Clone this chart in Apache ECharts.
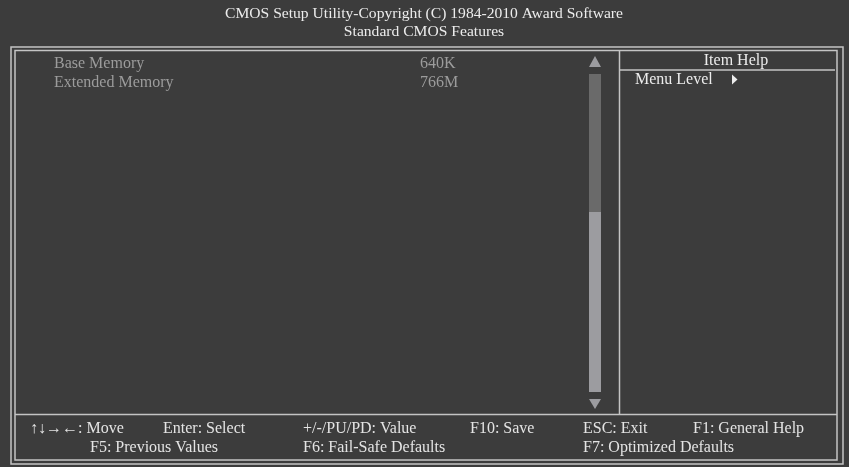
<!DOCTYPE html>
<html>
<head>
<meta charset="utf-8">
<script src="https://cdn.jsdelivr.net/npm/echarts@6/dist/echarts.min.js"></script>
<style>
  html, body { margin: 0; padding: 0; background: #3c3c3c; }
  #main { width: 849px; height: 467px; }
</style>
</head>
<body>
<div id="main"></div>
<script>
let titleLines = ['CMOS Setup Utility-Copyright (C) 1984-2010 Award Software', 'Standard CMOS Features']
let itemNames = ['Base Memory', 'Extended Memory']
let itemValues = ['640K', '766M']
let helpTitle = 'Item Help'
let helpText = 'Menu Level'
// footer keys: [text, x, row]
let footerKeys = [
  ['↑↓→←: Move', 30, 0], ['Enter: Select', 163, 0], ['+/-/PU/PD: Value', 303, 0],
  ['F10: Save', 470, 0], ['ESC: Exit', 583, 0], ['F1: General Help', 693, 0],
  ['F5: Previous Values', 90, 1], ['F6: Fail-Safe Defaults', 303, 1], ['F7: Optimized Defaults', 583, 1]
]
// scrollbar: empty track part and thumb part (percent of track)
let scrollParts = ['track', 'thumb']
let scrollValues = [43.4, 56.6]

let lineColor = '#c4c4c4'
let font = '"Liberation Serif", "Times New Roman", serif'

let chart = echarts.init(document.getElementById('main'))

let elements = []
// frames
elements.push({ type: 'rect', shape: { x: 11, y: 47, width: 832, height: 417 }, style: { fill: null, stroke: lineColor, lineWidth: 1.5 } })
elements.push({ type: 'rect', shape: { x: 15, y: 50.5, width: 822, height: 409.5 }, style: { fill: null, stroke: lineColor, lineWidth: 1.5 } })
elements.push({ type: 'line', shape: { x1: 15, y1: 414.5, x2: 837, y2: 414.5 }, style: { stroke: lineColor, lineWidth: 1.5 } })
elements.push({ type: 'line', shape: { x1: 619.5, y1: 50, x2: 619.5, y2: 414 }, style: { stroke: lineColor, lineWidth: 1.5 } })
elements.push({ type: 'line', shape: { x1: 619, y1: 70, x2: 835, y2: 70 }, style: { stroke: lineColor, lineWidth: 1.5 } })

titleLines.forEach(function (t, i) {
  elements.push({ type: 'text', style: { text: t, x: 424, y: 14 + i * 18, textAlign: 'center', textVerticalAlign: 'middle', fill: '#ececec', font: '15.6px ' + font } })
})
itemNames.forEach(function (t, i) {
  elements.push({ type: 'text', style: { text: t, x: 54, y: 64 + i * 18.5, textVerticalAlign: 'middle', fill: '#9c9c9c', font: '16px ' + font } })
  elements.push({ type: 'text', style: { text: itemValues[i], x: 420, y: 64 + i * 18.5, textVerticalAlign: 'middle', fill: '#9c9c9c', font: '16px ' + font } })
})
elements.push({ type: 'text', style: { text: helpTitle, x: 736, y: 61, textAlign: 'center', textVerticalAlign: 'middle', fill: '#ececec', font: '16px ' + font } })
elements.push({ type: 'text', style: { text: helpText, x: 635, y: 79.5, textVerticalAlign: 'middle', fill: '#ececec', font: '16px ' + font } })
elements.push({ type: 'polygon', shape: { points: [[732, 74.5], [732, 84.5], [737.5, 79.5]] }, style: { fill: '#ececec' } })
// scroll arrows
elements.push({ type: 'polygon', shape: { points: [[589, 67], [601, 67], [595, 56]] }, style: { fill: '#9c9ca0' } })
elements.push({ type: 'polygon', shape: { points: [[589, 399], [601, 399], [595, 409]] }, style: { fill: '#9c9ca0' } })

footerKeys.forEach(function (k) {
  elements.push({ type: 'text', style: { text: k[0], x: k[1], y: 429 + k[2] * 19, textVerticalAlign: 'middle', fill: '#e4e4e4', font: '16px ' + font } })
})

let option = {
  backgroundColor: '#3c3c3c',
  animation: false,
  grid: { left: 589, top: 74, width: 12, height: 318 },
  xAxis: { type: 'category', data: ['scroll'], show: false },
  yAxis: { type: 'value', min: 0, max: 100, inverse: true, show: false },
  series: scrollParts.map(function (name, i) {
    return {
      name: name,
      type: 'bar',
      stack: 'scroll',
      barWidth: '100%',
      silent: true,
      itemStyle: { color: i === 0 ? '#6a6a6a' : '#9c9ca0' },
      data: [scrollValues[i]]
    }
  }),
  graphic: { elements: elements }
}
chart.setOption(option)
</script>
</body>
</html>
